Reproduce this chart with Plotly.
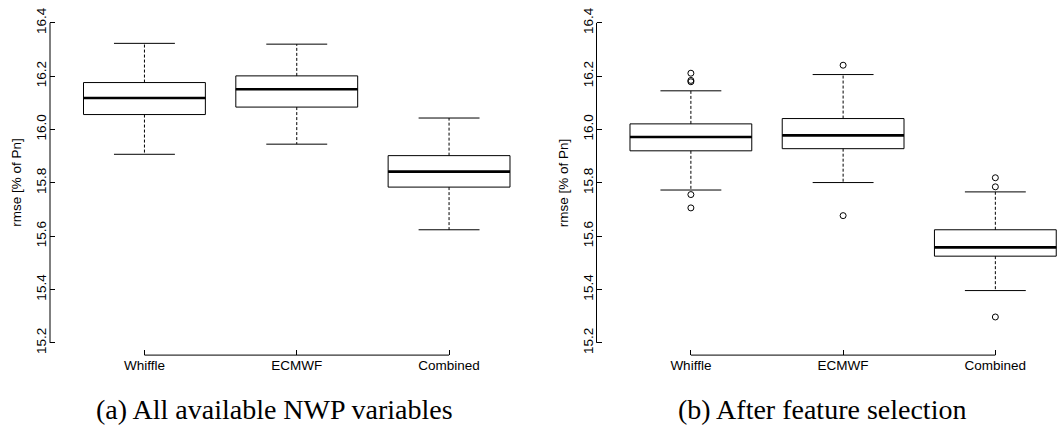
import plotly.graph_objects as go

# ---------------- data ----------------
categories = ["Whiffle", "ECMWF", "Combined"]
positions = [1, 2, 3]

# (a) All available NWP variables
a_lower = [15.907, 15.945, 15.624]
a_q1 = [16.056, 16.084, 15.784]
a_median = [16.118, 16.151, 15.842]
a_q3 = [16.176, 16.201, 15.902]
a_upper = [16.323, 16.320, 16.043]
a_outliers = [[], [], []]

# (b) After feature selection
b_lower = [15.773, 15.801, 15.396]
b_q1 = [15.920, 15.928, 15.525]
b_median = [15.972, 15.978, 15.558]
b_q3 = [16.021, 16.041, 15.624]
b_upper = [16.145, 16.206, 15.766]
b_outliers = [[16.211, 16.184, 16.179, 15.756, 15.706],
              [16.241, 15.677],
              [15.819, 15.785, 15.297]]

y_ticks = [15.2, 15.4, 15.6, 15.8, 16.0, 16.2, 16.4]
y_ticktext = ["15.2", "15.4", "15.6", "15.8", "16.0", "16.2", "16.4"]
y_title = "rmse [% of Pn]"
captions = ["(a) All available NWP variables", "(b) After feature selection"]

panels = [
    dict(lower=a_lower, q1=a_q1, median=a_median, q3=a_q3, upper=a_upper, out=a_outliers),
    dict(lower=b_lower, q1=b_q1, median=b_median, q3=b_q3, upper=b_upper, out=b_outliers),
]

# ---------------- layout geometry (pixels) ----------------
W, H = 1057, 427
def px(x):
    return x / W
def py(y):
    return 1 - y / H

BOX_W = 0.8
CAP_W = 0.4
x_dom_px = [(50.0, 543.5), (596.5, 1057.0)]
x_ranges = [[0.38, 3.62], [0.38, 3.405]]
y_dom = [py(354.6), py(7.6)]
y_range = [15.154, 16.446]
caption_x = [274, 822]
ytitle_x = [17, 563.5]

SANS = "Liberation Sans, Arial, sans-serif"
SERIF = "Liberation Serif, Times New Roman, serif"
FS = 13.5

fig = go.Figure()
annotations = []
shapes = []

for k, p in enumerate(panels):
    xa = "x" if k == 0 else "x2"
    ya = "y" if k == 0 else "y2"
    # boxes
    fig.add_trace(go.Box(
        x=positions, q1=p["q1"], median=p["median"], q3=p["q3"],
        lowerfence=p["q1"], upperfence=p["q3"],
        width=BOX_W, whiskerwidth=0, boxpoints=False,
        fillcolor="white", line=dict(color="black", width=1),
        xaxis=xa, yaxis=ya, showlegend=False, hoverinfo="skip"))
    # whiskers (dashed)
    wx, wy = [], []
    for i, pos in enumerate(positions):
        wx += [pos, pos, None, pos, pos, None]
        wy += [p["q3"][i], p["upper"][i], None, p["q1"][i], p["lower"][i], None]
    fig.add_trace(go.Scatter(x=wx, y=wy, mode="lines",
                             line=dict(color="black", width=1, dash="3px,2px"),
                             xaxis=xa, yaxis=ya, showlegend=False, hoverinfo="skip"))
    # caps
    cx, cy = [], []
    for i, pos in enumerate(positions):
        cx += [pos - CAP_W / 2, pos + CAP_W / 2, None, pos - CAP_W / 2, pos + CAP_W / 2, None]
        cy += [p["upper"][i], p["upper"][i], None, p["lower"][i], p["lower"][i], None]
    fig.add_trace(go.Scatter(x=cx, y=cy, mode="lines",
                             line=dict(color="black", width=1),
                             xaxis=xa, yaxis=ya, showlegend=False, hoverinfo="skip"))
    # medians (thick)
    mx, my = [], []
    for i, pos in enumerate(positions):
        mx += [pos - BOX_W / 2, pos + BOX_W / 2, None]
        my += [p["median"][i], p["median"][i], None]
    fig.add_trace(go.Scatter(x=mx, y=my, mode="lines",
                             line=dict(color="black", width=2.6),
                             xaxis=xa, yaxis=ya, showlegend=False, hoverinfo="skip"))
    # outliers
    ox, oy = [], []
    for i, pos in enumerate(positions):
        ox += [pos] * len(p["out"][i])
        oy += p["out"][i]
    if oy:
        fig.add_trace(go.Scatter(x=ox, y=oy, mode="markers",
                                 marker=dict(symbol="circle-open", size=6, color="black",
                                             line=dict(width=1)),
                                 xaxis=xa, yaxis=ya, showlegend=False, hoverinfo="skip"))

    # axis lines only between extreme ticks (R style)
    shapes.append(dict(type="line", xref=xa + " domain", yref=ya, x0=0, x1=0,
                       y0=y_ticks[0], y1=y_ticks[-1], line=dict(color="black", width=1)))
    shapes.append(dict(type="line", xref=xa, yref=ya + " domain",
                       x0=positions[0], x1=positions[-1], y0=0, y1=0,
                       line=dict(color="black", width=1)))

    annotations.append(dict(text=captions[k], x=px(caption_x[k]), y=py(409),
                            xref="paper", yref="paper", xanchor="center", yanchor="middle",
                            showarrow=False, font=dict(family=SERIF, size=28, color="black")))
    annotations.append(dict(text=y_title, x=px(ytitle_x[k]), y=py(181),
                            xref="paper", yref="paper", xanchor="center", yanchor="middle",
                            textangle=-90, showarrow=False,
                            font=dict(family=SANS, size=FS, color="black")))

axis_common = dict(showgrid=False, zeroline=False, showline=False,
                   ticks="inside", ticklen=5, tickwidth=1, tickcolor="black",
                   tickfont=dict(family=SANS, size=FS, color="black"))

fig.update_layout(
    width=W, height=H,
    margin=dict(l=0, r=0, t=0, b=0),
    paper_bgcolor="white", plot_bgcolor="white",
    xaxis=dict(domain=[px(x_dom_px[0][0]), px(x_dom_px[0][1])], range=x_ranges[0],
               tickvals=positions, ticktext=categories, anchor="y", **axis_common),
    yaxis=dict(domain=y_dom, range=y_range, tickvals=y_ticks, ticktext=y_ticktext,
               tickangle=-90, anchor="x", **axis_common),
    xaxis2=dict(domain=[px(x_dom_px[1][0]), px(x_dom_px[1][1])], range=x_ranges[1],
                tickvals=positions, ticktext=categories, anchor="y2", **axis_common),
    yaxis2=dict(domain=y_dom, range=y_range, tickvals=y_ticks, ticktext=y_ticktext,
                tickangle=-90, anchor="x2", **axis_common),
    shapes=shapes,
    annotations=annotations,
)

fig.write_html("out.html")
